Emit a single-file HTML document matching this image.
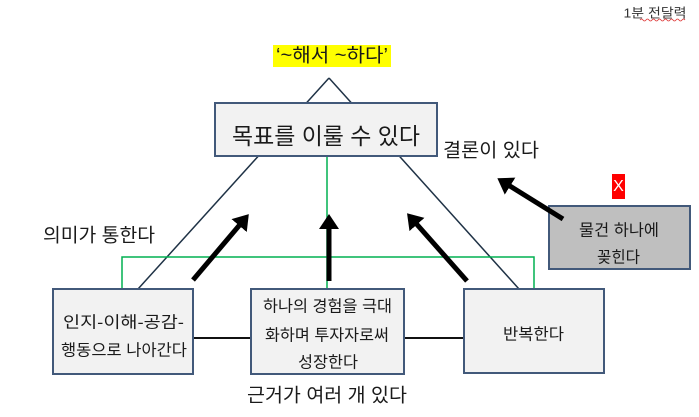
<!DOCTYPE html>
<html>
<head>
<meta charset="utf-8">
<style>
html,body{margin:0;padding:0;background:#fff;}
svg{display:block;}
text{font-family:"Liberation Sans","Noto Sans CJK KR","NanumGothic",sans-serif;fill:#1a1a1a;}
</style>
</head>
<body>
<svg width="699" height="417" viewBox="0 0 699 417" xmlns="http://www.w3.org/2000/svg">
  <defs>
    <marker id="ah" markerWidth="4" markerHeight="4" refX="1.2" refY="2" orient="auto" markerUnits="strokeWidth">
      <path d="M0,0 L3,2 L0,4 Z" fill="#000"/>
    </marker>
  </defs>

  <!-- top right label -->
  <text x="655" y="13" font-size="13" text-anchor="middle" dominant-baseline="central" textLength="63" lengthAdjust="spacingAndGlyphs" style="fill:#333">1분 전달력</text>
  <path d="M640,20 q1.5,-2 3,0 t3,0 t3,0 t3,0 t3,0 t3,0 t3,0 t3,0 t3,0 t3,0 t3,0 t3,0 t3,0 t3,0 t3,0" stroke="#d33" stroke-width="0.8" fill="none"/>

  <!-- yellow title -->
  <rect x="273" y="45" width="118" height="22" fill="#ffff00"/>
  <text x="332" y="56" font-size="19" text-anchor="middle" dominant-baseline="central" textLength="112" lengthAdjust="spacingAndGlyphs">‘~해서 ~하다’</text>

  <!-- triangle lines -->
  <line x1="329" y1="78" x2="138" y2="289" stroke="#1f3246" stroke-width="1.5"/>
  <line x1="329" y1="78" x2="519" y2="289" stroke="#1f3246" stroke-width="1.5"/>

  <!-- green lines -->
  <line x1="327" y1="157" x2="327" y2="289" stroke="#00b050" stroke-width="1.5"/>
  <polyline points="122,289 122,257 534,257 534,289" fill="none" stroke="#00b050" stroke-width="1.5"/>

  <!-- connectors between bottom boxes -->
  <line x1="193" y1="338" x2="251" y2="338" stroke="#111" stroke-width="2"/>
  <line x1="404" y1="338" x2="463" y2="338" stroke="#111" stroke-width="2"/>

  <!-- main box -->
  <rect x="215" y="103" width="222" height="53" fill="#f2f2f2" stroke="#42597a" stroke-width="2"/>
  <text x="326" y="136" font-size="23" text-anchor="middle" dominant-baseline="central" textLength="188" lengthAdjust="spacingAndGlyphs">목표를 이룰 수 있다</text>

  <!-- labels -->
  <text x="491" y="151" font-size="19" text-anchor="middle" dominant-baseline="central" textLength="96" lengthAdjust="spacingAndGlyphs">결론이 있다</text>
  <text x="99" y="236" font-size="19" text-anchor="middle" dominant-baseline="central" textLength="112" lengthAdjust="spacingAndGlyphs">의미가 통한다</text>
  <text x="327" y="396" font-size="19" text-anchor="middle" dominant-baseline="central" textLength="160" lengthAdjust="spacingAndGlyphs">근거가 여러 개 있다</text>

  <!-- left box -->
  <rect x="53" y="289" width="140" height="85" fill="#f2f2f2" stroke="#42597a" stroke-width="2"/>
  <text x="123.5" y="323" font-size="16" text-anchor="middle" dominant-baseline="central" textLength="121" lengthAdjust="spacingAndGlyphs">인지-이해-공감-</text>
  <text x="124" y="351" font-size="16" text-anchor="middle" dominant-baseline="central" textLength="126" lengthAdjust="spacingAndGlyphs">행동으로 나아간다</text>

  <!-- middle box -->
  <rect x="251" y="289" width="153" height="85" fill="#f2f2f2" stroke="#42597a" stroke-width="2"/>
  <text x="327.5" y="307" font-size="16" text-anchor="middle" dominant-baseline="central" textLength="129" lengthAdjust="spacingAndGlyphs">하나의 경험을 극대</text>
  <text x="327" y="336" font-size="16" text-anchor="middle" dominant-baseline="central" textLength="124" lengthAdjust="spacingAndGlyphs">화하며 투자자로써</text>
  <text x="328" y="363" font-size="16" text-anchor="middle" dominant-baseline="central" textLength="60" lengthAdjust="spacingAndGlyphs">성장한다</text>

  <!-- right box -->
  <rect x="464" y="289" width="140" height="84" fill="#f2f2f2" stroke="#42597a" stroke-width="2"/>
  <text x="533.5" y="335" font-size="16" text-anchor="middle" dominant-baseline="central" textLength="61" lengthAdjust="spacingAndGlyphs">반복한다</text>

  <!-- gray box -->
  <rect x="549" y="206" width="141" height="63" fill="#bfbfbf" stroke="#42597a" stroke-width="2"/>
  <text x="619" y="231" font-size="16" text-anchor="middle" dominant-baseline="central" textLength="80" lengthAdjust="spacingAndGlyphs">물건 하나에</text>
  <text x="618.5" y="258" font-size="16" text-anchor="middle" dominant-baseline="central" textLength="43" lengthAdjust="spacingAndGlyphs">꽂힌다</text>

  <!-- red X -->
  <rect x="612" y="174" width="13" height="25" fill="#ff0000"/>
  <text x="618.5" y="186.5" font-size="16" text-anchor="middle" dominant-baseline="central" style="fill:#fff">X</text>

  <!-- thick arrows -->
  <g stroke="#000" stroke-width="5" fill="none">
    <line x1="193" y1="280" x2="243" y2="221" marker-end="url(#ah)"/>
    <line x1="329" y1="281" x2="329" y2="223" marker-end="url(#ah)"/>
    <line x1="467" y1="281" x2="413" y2="220" marker-end="url(#ah)"/>
    <line x1="563" y1="219" x2="505" y2="183" marker-end="url(#ah)"/>
  </g>
</svg>
</body>
</html>
